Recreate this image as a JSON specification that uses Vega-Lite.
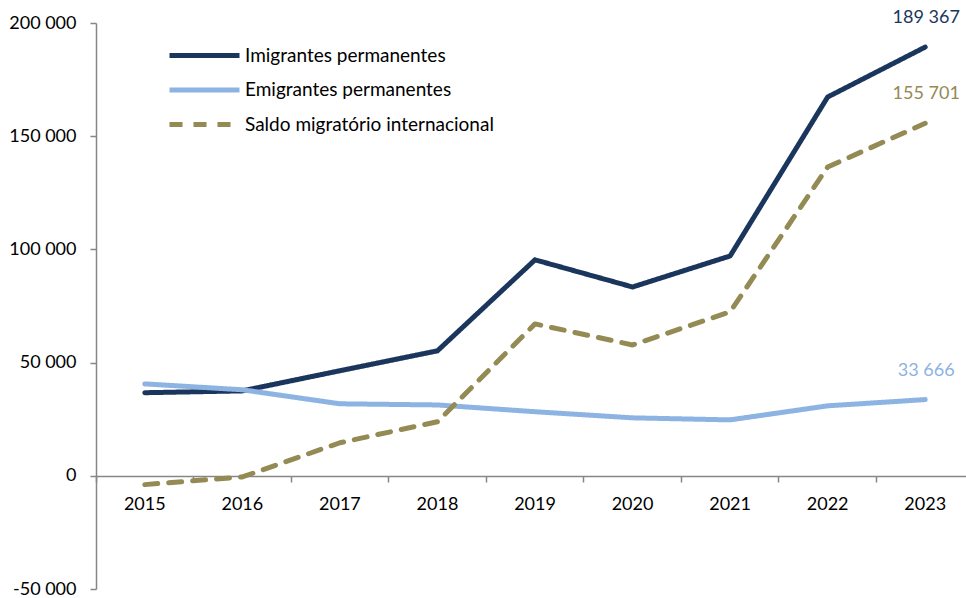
{
  "$schema": "https://vega.github.io/schema/vega-lite/v6.json",
  "width": 870,
  "height": 566,
  "autosize": "none",
  "padding": {"left": 96, "top": 23, "right": 0, "bottom": 9},
  "config": {
    "view": {"stroke": null},
    "font": "Lato",
    "locale": {"number": {"decimal": ",", "thousands": " ", "grouping": [3], "currency": ["", " €"], "minus": "-"}}
  },
  "data": {
    "values": [
      {"ano": 2015, "serie": "Imigrantes permanentes", "valor": 36700},
      {"ano": 2016, "serie": "Imigrantes permanentes", "valor": 37500},
      {"ano": 2017, "serie": "Imigrantes permanentes", "valor": 46400},
      {"ano": 2018, "serie": "Imigrantes permanentes", "valor": 55200},
      {"ano": 2019, "serie": "Imigrantes permanentes", "valor": 95400},
      {"ano": 2020, "serie": "Imigrantes permanentes", "valor": 83400},
      {"ano": 2021, "serie": "Imigrantes permanentes", "valor": 97100},
      {"ano": 2022, "serie": "Imigrantes permanentes", "valor": 167300},
      {"ano": 2023, "serie": "Imigrantes permanentes", "valor": 189367},
      {"ano": 2015, "serie": "Emigrantes permanentes", "valor": 40600},
      {"ano": 2016, "serie": "Emigrantes permanentes", "valor": 38000},
      {"ano": 2017, "serie": "Emigrantes permanentes", "valor": 31800},
      {"ano": 2018, "serie": "Emigrantes permanentes", "valor": 31300},
      {"ano": 2019, "serie": "Emigrantes permanentes", "valor": 28300},
      {"ano": 2020, "serie": "Emigrantes permanentes", "valor": 25600},
      {"ano": 2021, "serie": "Emigrantes permanentes", "valor": 24700},
      {"ano": 2022, "serie": "Emigrantes permanentes", "valor": 30900},
      {"ano": 2023, "serie": "Emigrantes permanentes", "valor": 33666},
      {"ano": 2015, "serie": "Saldo migratório internacional", "valor": -3900},
      {"ano": 2016, "serie": "Saldo migratório internacional", "valor": -500},
      {"ano": 2017, "serie": "Saldo migratório internacional", "valor": 14600},
      {"ano": 2018, "serie": "Saldo migratório internacional", "valor": 23900},
      {"ano": 2019, "serie": "Saldo migratório internacional", "valor": 67100},
      {"ano": 2020, "serie": "Saldo migratório internacional", "valor": 57800},
      {"ano": 2021, "serie": "Saldo migratório internacional", "valor": 72400},
      {"ano": 2022, "serie": "Saldo migratório internacional", "valor": 136400},
      {"ano": 2023, "serie": "Saldo migratório internacional", "valor": 155701}
    ]
  },
  "encoding": {
    "x": {
      "field": "ano", "type": "ordinal",
      "scale": {"type": "band", "paddingInner": 0, "paddingOuter": 0, "range": [0, 878]},
      "axis": {
        "title": null, "labelAngle": 0, "offset": -113, "bandPosition": 0,
        "domainColor": "#868686", "domainWidth": 1.5, "tickColor": "#868686", "tickWidth": 1.5, "tickSize": 6,
        "labelPadding": 13, "labelFontSize": 18, "labelColor": "#000000", "labelFont": "Lato"
      }
    },
    "y": {
      "field": "valor", "type": "quantitative",
      "scale": {"domain": [-50000, 200000], "nice": false, "zero": false},
      "axis": {
        "title": null, "values": [-50000, 0, 50000, 100000, 150000, 200000], "format": ",d", "grid": false,
        "domainColor": "#868686", "domainWidth": 1.5, "tickColor": "#868686", "tickWidth": 1.5, "tickSize": 6,
        "labelPadding": 14, "labelFontSize": 18, "labelColor": "#000000", "labelFont": "Lato"
      }
    },
    "color": {
      "field": "serie", "type": "nominal",
      "scale": {
        "domain": ["Imigrantes permanentes", "Emigrantes permanentes", "Saldo migratório internacional"],
        "range": ["#1b365d", "#8db3e2", "#948a54"]
      },
      "legend": {
        "title": null, "orient": "none", "legendX": 88.5, "legendY": 12.5,
        "symbolType": "M-2,0H2", "symbolSize": 1225, "symbolStrokeWidth": 5,
        "labelFontSize": 19, "labelFont": "Lato", "labelColor": "#000000", "labelOffset": 20.5, "rowPadding": 4.5,
        "labelLimit": 400
      }
    }
  },
  "layer": [
    {
      "mark": {"type": "line", "strokeWidth": 5, "strokeCap": "round", "strokeJoin": "round"},
      "encoding": {
        "strokeDash": {
          "field": "serie", "type": "nominal",
          "scale": {
            "domain": ["Imigrantes permanentes", "Emigrantes permanentes", "Saldo migratório internacional"],
            "range": [[1, 0], [1, 0], [13, 11]]
          },
          "legend": {
            "title": null, "orient": "none", "legendX": 88.5, "legendY": 12.5,
            "symbolType": "M-2,0H2", "symbolSize": 1225, "symbolStrokeWidth": 5,
            "labelFontSize": 19, "labelFont": "Lato", "labelColor": "#000000", "labelOffset": 20.5, "rowPadding": 4.5,
            "labelLimit": 400
          }
        }
      }
    },
    {
      "transform": [{"filter": "datum.ano == 2023"}],
      "mark": {"type": "text", "dx": 1, "dy": -29, "fontSize": 18, "font": "Lato", "align": "center", "baseline": "middle"},
      "encoding": {
        "text": {"field": "valor", "type": "quantitative", "format": ",d"}
      }
    }
  ]
}
